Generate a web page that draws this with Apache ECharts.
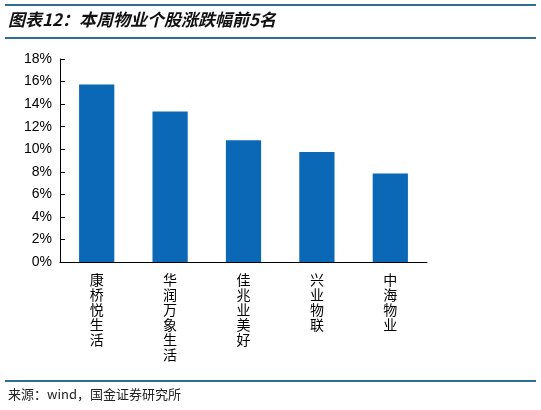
<!DOCTYPE html><html><head><meta charset="utf-8"><script src="https://cdn.jsdelivr.net/npm/echarts@6/dist/echarts.min.js"></script></head><body style="margin:0"><div id="c" style="width:541px;height:410px"></div><script>
const categories=['康桥悦生活','华润万象生活','佳兆业美好','兴业物联','中海物业'];
const values=[15.75,13.35,10.8,9.75,7.85];
const yTicks=[0,2,4,6,8,10,12,14,16,18];
const c=echarts.init(document.getElementById('c'));
const ln=y=>({type:'line',shape:{x1:5,y1:y,x2:536,y2:y},style:{stroke:'#2f6e91',lineWidth:2}});
c.setOption({animation:false,
graphic:[ln(5),ln(38),ln(381),
{type:'text',left:8,top:11,style:{text:'图表12：本周物业个股涨跌幅前5名',font:'italic bold 17px "Noto Sans CJK SC"',fill:'#111'}},
{type:'text',left:8,top:388,style:{text:'来源：wind，国金证券研究所',font:'13px "Noto Sans CJK SC"',fill:'#222'}}],
grid:{left:60,top:59,width:367,height:203},
xAxis:{type:'category',data:categories,axisLine:{lineStyle:{color:'#000'}},axisTick:{inside:true,length:5,lineStyle:{color:'#000'}},
axisLabel:{interval:0,color:'#000',fontSize:14,lineHeight:15,fontFamily:'Noto Sans CJK SC',formatter:v=>v.split('').join('\n'),margin:10}},
yAxis:{type:'value',min:0,max:18,interval:2,axisLine:{show:true,lineStyle:{color:'#000'}},axisTick:{show:true,inside:true,length:5,lineStyle:{color:'#000'}},splitLine:{show:false},
axisLabel:{color:'#000',fontSize:14,fontFamily:'Arial, Liberation Sans',formatter:v=>yTicks.includes(v)?v+'%':''}},
series:[{type:'bar',data:values,barWidth:'48%',itemStyle:{color:'#0a68b6'}}]});
</script></body></html>
